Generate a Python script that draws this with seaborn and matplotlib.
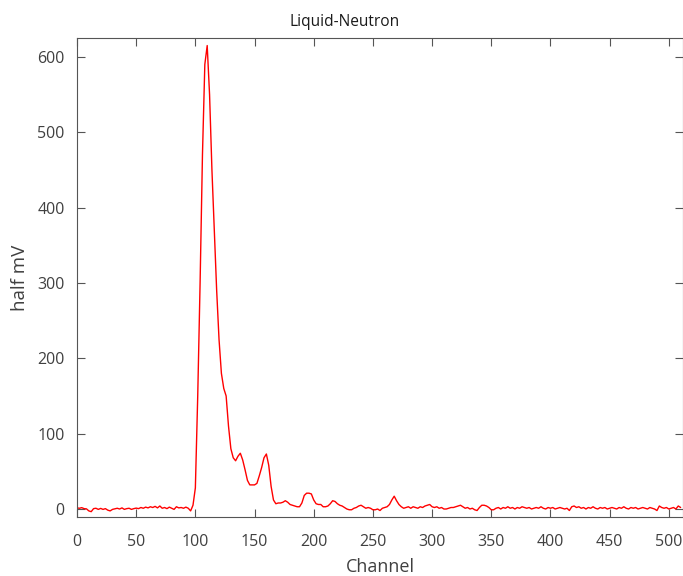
import matplotlib
matplotlib.use("Agg")
import matplotlib.pyplot as plt
import seaborn as sns
import numpy as np
import pandas as pd

# Channel numbers (every 2nd channel) and readings (half mV)
channels = list(range(0, 512, 2))
values = [
    1.5, 1.0, 1.8, 0.5, 0.2, -2.5, -3.5, 0.5, 1.0, -0.5,      # 0-18
    0.8, -0.5, 0.5, -1.5, -2.5, -0.5, 0.2, 1.0, 0.0, 1.5,     # 20-38
    -0.5, 0.5, 1.0, -0.5, 0.5, 1.2, 0.5, 2.0, 1.0, 2.5,       # 40-58
    1.5, 3.0, 2.0, 3.5, 1.5, 4.0, 1.0, 2.0, 0.5, 2.5,         # 60-78
    1.0, -0.5, 3.0, 1.5, 2.0, 1.0, 2.5, 1.0, -2.5, 5.0,       # 80-98
    28, 150, 300, 470, 590, 615, 550, 450, 370, 290,          # 100-118
    225, 180, 160, 150, 110, 80, 68, 64, 70, 74,              # 120-138
    65, 52, 38, 32, 32, 32, 34, 44, 55, 68,                   # 140-158
    73, 58, 30, 12, 7, 8, 8, 9, 11, 9,                        # 160-178
    6, 5, 4, 3, 3, 8, 18, 21, 21, 20,                         # 180-198
    12, 7, 6, 6, 3, 3, 4, 7, 11, 10,                          # 200-218
    7, 5, 4, 2, 0, -1, -1, 1, 2, 4,                           # 220-238
    5, 3, 1, 2, 1, -1, -1, 0, -2, 1,                          # 240-258
    2, 3, 6, 12, 17, 11, 6, 3, 1, 2,                          # 260-278
    3, 1, 3, 2, 1, 3, 2, 4, 5, 6,                             # 280-298
    3, 2, 3, 1, 2, 0, 0, 1, 2, 2,                             # 300-318
    3, 4, 5, 3, 1, 2, 0, 1, -1, -2,                           # 320-338
    2, 5, 5, 4, 2, -1, -1, 1, 2, 0,                           # 340-358
    2, 1, 3, 1, 2, 0, 2, 1, 3, 2,                             # 360-378
    1, 2, 0, 1, 2, 1, 3, 1, 0, 2,                             # 380-398
    1, 2, 0, 1, 2, 1, 0, 1, -2, 3,                            # 400-418
    4, 2, 3, 1, 2, 0, 2, 1, 3, 1,                             # 420-438
    0, 2, 1, 2, 0, 1, 2, 1, 0, 2,                             # 440-458
    1, 3, 1, 0, 2, 1, 2, 0, 1, 2,                             # 460-478
    1, 0, 2, 1, 0, -2, 4, 2, 1, 2,                            # 480-498
    0, 1, 2, 0, 4, 2,                                         # 500-510
]

x_ticks = list(range(0, 501, 50))
y_ticks = list(range(0, 601, 100))

df = pd.DataFrame({"Channel": channels, "half mV": values})

sns.set_style("white")
plt.rcParams["font.family"] = ["Open Sans", "DejaVu Sans"]

fig = plt.figure(figsize=(6.83, 5.76), dpi=100)
ax = fig.add_axes([77 / 683, 1 - 517 / 576, 1 - 77 / 683, (517 - 38) / 576])

sns.lineplot(data=df, x="Channel", y="half mV", color="#ff0000", linewidth=1.0, ax=ax)

ax.set_xlim(0, 512)
ax.set_ylim(-10.6, 625)
ax.set_xticks(x_ticks)
ax.set_yticks(y_ticks)

for s in ax.spines.values():
    s.set_color("#555555")
    s.set_linewidth(0.8)
    s.set_visible(True)

ax.tick_params(axis="both", direction="in", length=6, width=0.8, color="#555555",
               labelsize=11.5, labelcolor="#404040", top=True, right=True,
               bottom=True, left=True)
ax.tick_params(axis="x", pad=12)
ax.tick_params(axis="y", pad=9)

ax.set_xlabel("Channel", fontsize=13, color="#404040", labelpad=6)
ax.set_ylabel("half mV", fontsize=13.5, color="#404040", labelpad=6)
ax.set_title("Liquid-Neutron", fontsize=11.2, color="#1a1a1a", x=(345 - 77) / (683 - 77), pad=9)

fig.savefig("out.png", dpi=100)
